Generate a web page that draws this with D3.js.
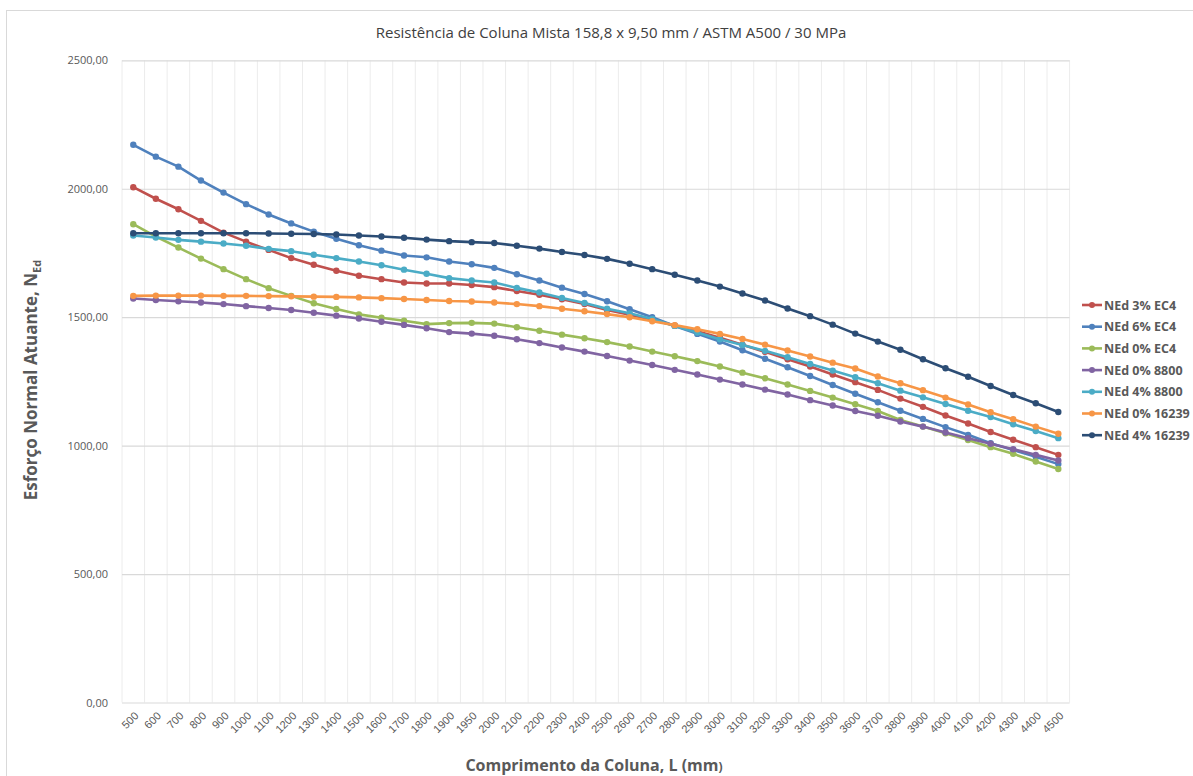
<!DOCTYPE html>
<html><head><meta charset="utf-8">
<script src="https://cdn.jsdelivr.net/npm/d3@7"></script>
<style>
body{margin:0;background:#fff;}
svg{display:block;font-family:"Open Sans",sans-serif;}
</style></head>
<body><svg id="c" width="1193" height="776"></svg>
<script>
const categories = ["500","600","700","800","900","1000","1100","1200","1300","1400","1500","1600","1700","1800","1900","1950","2000","2100","2200","2300","2400","2500","2600","2700","2800","2900","3000","3100","3200","3300","3400","3500","3600","3700","3800","3900","4000","4100","4200","4300","4400","4500"];
const ned3EC4 = [2006,1961,1920,1875,1829,1794,1762,1730,1704,1681,1661,1648,1635,1631,1631,1625,1617,1602,1587,1570,1551,1528,1510,1490,1468,1445,1420,1393,1365,1336,1308,1277,1247,1217,1183,1151,1117,1086,1053,1023,994,964];
const ned6EC4 = [2171,2125,2086,2032,1985,1940,1900,1865,1833,1805,1780,1759,1740,1733,1717,1706,1692,1667,1643,1615,1590,1562,1531,1500,1466,1435,1405,1371,1338,1305,1271,1236,1202,1169,1136,1104,1072,1042,1009,983,957,928];
const ned0EC4 = [1862,1814,1771,1728,1687,1648,1613,1583,1554,1532,1511,1498,1486,1473,1477,1478,1475,1461,1447,1432,1418,1403,1386,1366,1348,1329,1308,1284,1262,1238,1213,1187,1161,1135,1100,1074,1048,1022,994,968,938,909];
const ned0_8800 = [1573,1567,1562,1557,1551,1543,1536,1528,1517,1506,1495,1482,1470,1457,1442,1436,1428,1414,1399,1382,1366,1349,1331,1314,1295,1277,1257,1238,1218,1199,1177,1156,1135,1116,1094,1074,1051,1029,1007,986,964,942];
const ned4_8800 = [1818,1810,1801,1794,1787,1778,1766,1757,1743,1730,1717,1702,1685,1669,1652,1643,1635,1614,1596,1575,1555,1533,1515,1493,1466,1440,1414,1392,1369,1344,1318,1292,1266,1243,1214,1188,1162,1136,1111,1083,1057,1029];
const ned0_16239 = [1583,1584,1584,1584,1583,1583,1582,1581,1580,1579,1577,1574,1571,1567,1563,1561,1557,1551,1543,1533,1523,1512,1500,1484,1469,1453,1435,1415,1393,1370,1347,1323,1300,1269,1243,1216,1187,1160,1130,1103,1074,1046];
const ned4_16239 = [1827,1827,1827,1827,1827,1827,1826,1825,1824,1822,1818,1814,1809,1802,1796,1792,1789,1778,1767,1754,1742,1727,1708,1687,1665,1643,1619,1592,1565,1534,1504,1471,1436,1405,1373,1336,1301,1268,1232,1197,1165,1131];
const seriesNames = ["NEd 3% EC4","NEd 6% EC4","NEd 0% EC4","NEd 0% 8800","NEd 4% 8800","NEd 0% 16239","NEd 4% 16239"];
const seriesColors = ["#C0504D","#4F81BD","#9BBB59","#8064A2","#4BACC6","#F79646","#2C4D75"];
const yTicks = [0,500,1000,1500,2000,2500];
const title = "Resistência de Coluna Mista 158,8 x 9,50 mm / ASTM A500 / 30 MPa";

const seriesValues = [ned3EC4,ned6EC4,ned0EC4,ned0_8800,ned4_8800,ned0_16239,ned4_16239];
const svg = d3.select("#c");
const L=122, R=1069.6, T=60.3, B=702.5;

// chart border
svg.append("rect").attr("x",6.5).attr("y",10.5).attr("width",1200).attr("height",800)
  .attr("fill","#fff").attr("stroke","#d9d9d9");

const xb = d3.scaleBand().domain(categories).range([L,R]).paddingInner(0).paddingOuter(0);
const xc = d => xb(d) + xb.bandwidth()/2;
const y = d3.scaleLinear().domain([0,2500]).range([B,T]);

// vertical gridlines
const vg = categories.map(c=>xb(c)).concat([R]);
svg.append("g").selectAll("line").data(vg).join("line")
  .attr("x1",d=>d).attr("x2",d=>d).attr("y1",T).attr("y2",B)
  .attr("stroke","#ececec").attr("stroke-width",1);

// horizontal gridlines + y labels
const ya = svg.append("g").attr("transform",`translate(${L},0)`)
  .call(d3.axisLeft(y).tickValues(yTicks).tickSize(-(R-L)).tickPadding(14)
    .tickFormat(d=>d3.format(".2f")(d).replace(".",",")));
ya.select(".domain").remove();
ya.selectAll(".tick line").attr("stroke","#d9d9d9").attr("stroke-width",1.2);
ya.selectAll(".tick text").attr("fill","#595959").attr("font-size",11).attr("font-family","'Open Sans',sans-serif");

// x labels
const xa = svg.append("g").attr("transform",`translate(0,${B})`)
  .call(d3.axisBottom(xb).tickSize(0).tickPadding(0));
xa.select(".domain").remove();
xa.selectAll(".tick text").attr("fill","#595959").attr("font-size",11)
  .attr("text-anchor","end").attr("dy",0).attr("y",0)
  .attr("transform","translate(6,14) rotate(-45)");

// lines
const line = d3.line().x((d,i)=>xc(categories[i])).y(d=>y(d));
seriesValues.forEach((vals,k)=>{
  const g = svg.append("g");
  g.append("path").datum(vals).attr("d",line).attr("fill","none")
    .attr("stroke",seriesColors[k]).attr("stroke-width",2.6).attr("stroke-linejoin","round");
  g.selectAll("circle").data(vals).join("circle")
    .attr("cx",(d,i)=>xc(categories[i])).attr("cy",d=>y(d)).attr("r",3.2)
    .attr("fill",seriesColors[k]);
});

// title
svg.append("text").attr("x",611).attr("y",38).attr("text-anchor","middle")
  .attr("fill","#404040").attr("font-size",15).text(title);

// axis titles
const yt = svg.append("text").attr("transform","translate(37,380) rotate(-90)")
  .attr("text-anchor","middle").attr("fill","#595959").attr("font-size",17).attr("font-weight","bold");
yt.append("tspan").text("Esforço Normal Atuante, N");
yt.append("tspan").attr("font-size",11).attr("dy",4).text("Ed");

const xt = svg.append("text").attr("x",594).attr("y",771).attr("text-anchor","middle")
  .attr("fill","#595959").attr("font-size",16).attr("font-weight","bold");
xt.append("tspan").text("Comprimento da Coluna, L (mm");
xt.append("tspan").attr("font-size",12).text(")");

// legend
const lg = svg.append("g");
seriesNames.forEach((n,k)=>{
  const yy = 305 + k*21.7;
  lg.append("line").attr("x1",1082).attr("x2",1102).attr("y1",yy).attr("y2",yy)
    .attr("stroke",seriesColors[k]).attr("stroke-width",2.6);
  lg.append("circle").attr("cx",1092).attr("cy",yy).attr("r",3).attr("fill",seriesColors[k]);
  lg.append("text").attr("x",1104).attr("y",yy+4.5).attr("fill","#595959")
    .attr("font-size",12.5).attr("font-weight","bold").text(n);
});
</script></body></html>
